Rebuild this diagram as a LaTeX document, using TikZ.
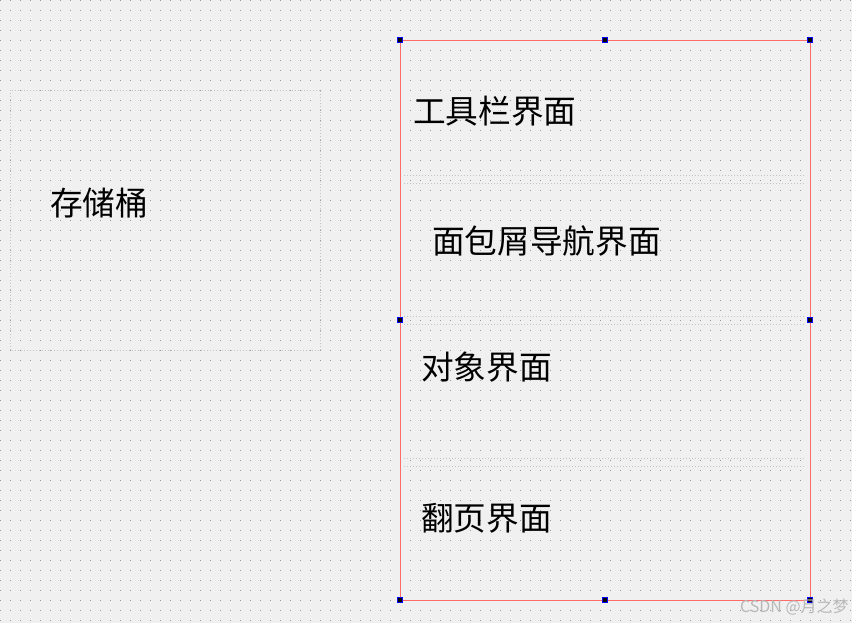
\documentclass[tikz,border=0pt]{standalone}
\usepackage{fontspec}
\usepackage{tikz}
\usetikzlibrary{positioning}
\newfontfamily\cjk{Noto Sans CJK SC}
\definecolor{canvas}{HTML}{F0F0F0}
\definecolor{griddot}{HTML}{999999}
\definecolor{layoutline}{HTML}{C4C4C4}
\definecolor{formedge}{HTML}{FF6B6B}
\definecolor{handle}{HTML}{0000FF}
\definecolor{wmark}{HTML}{B8B8B8}

\begin{document}
\begin{tikzpicture}[
  x=0.75pt, y=-0.75pt,
  every node/.style={font=\cjk},
  caption/.style={anchor=west, inner sep=0pt, font=\cjk\fontsize{24.5}{26}\selectfont},
  gridrow/.style={draw=griddot, line width=0.75pt, dash pattern=on 0.75pt off 6.75pt},
  layoutbox/.style={draw=layoutline, line width=0.75pt, dash pattern=on 0.75pt off 1.5pt},
  formbox/.style={draw=formedge, line width=0.75pt},
  handlebox/.style={
    draw=handle, fill=black, line width=0.75pt,
    minimum size=3.75pt, inner sep=0pt,
  },
]
  % designer canvas with its dot grid
  \fill[canvas] (0,0) rectangle (852,623);
  \useasboundingbox (0,0) rectangle (852,623);
  \foreach \j in {0,10,...,620}
    \draw[gridrow] (0,\j+0.5) -- (852,\j+0.5);

  % layout boxes
  \draw[layoutbox] (10.5,90.5) rectangle (320.5,350.5);
  \foreach \j in {175,183,316,324,458,466}
    \draw[layoutbox] (404,\j+0.5) -- (806,\j+0.5);

  % selected form
  \draw[formbox] (400.5,40.5) rectangle (810.5,600.5);
  \node[handlebox] (htl) at (400,40)  {};
  \node[handlebox] (htc) at (605,40)  {};
  \node[handlebox] (htr) at (810,40)  {};
  \node[handlebox] (hml) at (400,320) {};
  \node[handlebox] (hmr) at (810,320) {};
  \node[handlebox] (hbl) at (400,600) {};
  \node[handlebox] (hbc) at (605,600) {};
  \node[handlebox] (hbr) at (810,600) {};

  % widget labels
  \node[caption] (bucket)  at (50,203)  {存储桶};
  \node[caption] (toolbar) at (413,111) {工具栏界面};
  \node[caption] (crumb)   at (432,241) {面包屑导航界面};
  \node[caption] (object)  at (421,367) {对象界面};
  \node[caption] (paging)  at (421,518) {翻页界面};

  \node[anchor=east, inner sep=0pt, text=wmark, font=\cjk\fontsize{12}{14}\selectfont]
    (wm) at (849,607) {CSDN @月之梦};
\end{tikzpicture}
\end{document}
